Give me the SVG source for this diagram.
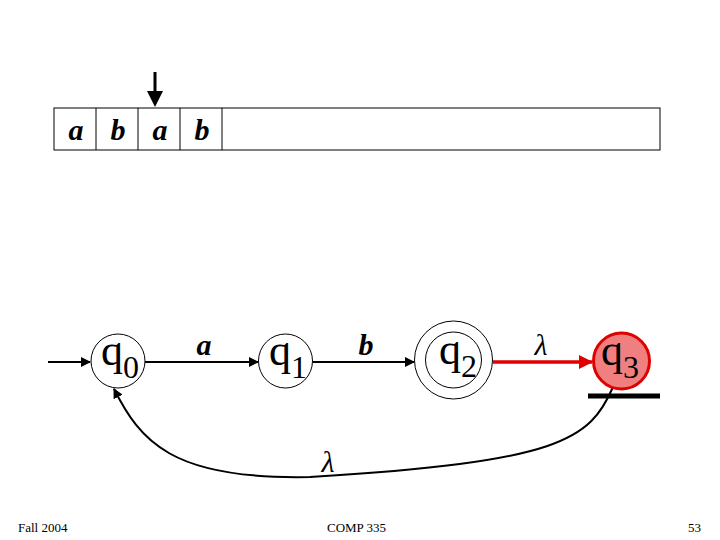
<svg xmlns="http://www.w3.org/2000/svg" width="720" height="540" viewBox="0 0 720 540">
<style>
.cell{fill:none;stroke:#000;stroke-width:1}
.sym{font-family:"Liberation Serif",serif;font-style:italic;font-weight:bold;font-size:30px;fill:#000}
.lam{font-family:"Liberation Serif",serif;font-style:italic;font-size:30px;fill:#000}
.st{fill:#fff;stroke:#000;stroke-width:1}
.lbl{font-family:"Liberation Serif",serif;font-size:44px;fill:#000}
.sub{font-size:32px}
.edge{fill:none;stroke:#000;stroke-width:2}
.foot{font-family:"Liberation Serif",serif;font-size:13px;fill:#000}
</style>
<defs>
<marker id="ah" markerWidth="10" markerHeight="10" refX="9" refY="5" orient="auto" markerUnits="userSpaceOnUse" viewBox="0 0 10 10">
<path d="M0,0 L10,5 L0,10 z" fill="#000"/>
</marker>
<marker id="ahr" markerWidth="14" markerHeight="14" refX="13" refY="7" orient="auto" markerUnits="userSpaceOnUse" viewBox="0 0 14 14">
<path d="M0,0 L14,7 L0,14 z" fill="#e00000"/>
</marker>
</defs>
<rect width="720" height="540" fill="#fff"/>
<g id="tape">
<rect class="cell" x="54" y="108" width="606" height="42"/>
<line class="cell" x1="96" y1="108" x2="96" y2="150"/>
<line class="cell" x1="138" y1="108" x2="138" y2="150"/>
<line class="cell" x1="180" y1="108" x2="180" y2="150"/>
<line class="cell" x1="222" y1="108" x2="222" y2="150"/>
<text class="sym" x="76" y="140" text-anchor="middle">a</text>
<text class="sym" x="118" y="140" text-anchor="middle">b</text>
<text class="sym" x="160" y="140" text-anchor="middle">a</text>
<text class="sym" x="202" y="140" text-anchor="middle">b</text>
</g>
<g id="head">
<line x1="155" y1="72" x2="155" y2="94" stroke="#000" stroke-width="3"/>
<path d="M147,91 L163,91 L155,107 z" fill="#000"/>
</g>
<g id="connectors">
<line class="edge" x1="48" y1="362" x2="90" y2="362" marker-end="url(#ah)"/>
<line class="edge" x1="145" y1="362" x2="258" y2="362" marker-end="url(#ah)"/>
<line class="edge" x1="313" y1="362" x2="414" y2="362" marker-end="url(#ah)"/>
<line x1="493" y1="362" x2="592" y2="362" stroke="#e00000" stroke-width="3.5" marker-end="url(#ahr)"/>
<path class="edge" d="M613,387 C590,440 560,462 310,477 C170,480 140,440 114,389" marker-end="url(#ah)"/>
<text class="sym" x="204" y="355" text-anchor="middle">a</text>
<text class="sym" x="366" y="355" text-anchor="middle">b</text>
<text class="lam" x="541" y="355" text-anchor="middle">λ</text>
<text class="lam" x="328" y="472" text-anchor="middle">λ</text>
</g>
<g id="q0">
<circle class="st" cx="118" cy="361" r="27"/>
<text class="lbl" x="101" y="365">q<tspan class="sub" dy="13">0</tspan></text>
</g>
<g id="q1">
<circle class="st" cx="285.5" cy="361" r="27"/>
<text class="lbl" x="269" y="365">q<tspan class="sub" dy="13">1</tspan></text>
</g>
<g id="q2">
<circle class="st" cx="453.5" cy="360" r="39"/>
<circle class="st" cx="453.5" cy="360" r="28"/>
<text class="lbl" x="439" y="364">q<tspan class="sub" dy="13">2</tspan></text>
</g>
<g id="q3">
<circle cx="621.5" cy="361" r="28" fill="#f08080" stroke="#e00000" stroke-width="3"/>
<text class="lbl" x="601" y="365">q<tspan class="sub" dy="13">3</tspan></text>
<line x1="588" y1="396" x2="660" y2="396" stroke="#000" stroke-width="5"/>
</g>
<g id="footer">
<text class="foot" x="18" y="532">Fall 2004</text>
<text class="foot" x="327" y="532">COMP 335</text>
<text class="foot" x="688" y="532">53</text>
</g>
</svg>
